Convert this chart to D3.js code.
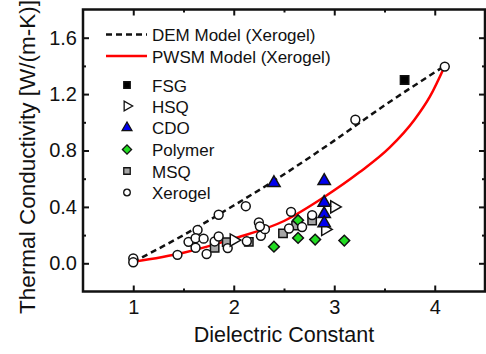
<!DOCTYPE html>
<html>
<head>
<meta charset="utf-8">
<script src="https://cdn.jsdelivr.net/npm/d3@7"></script>
<style>
  body { margin: 0; background: #fff; }
  text { font-family: "Liberation Sans", Arial, sans-serif; fill: #111; }
</style>
</head>
<body>
<svg id="chart" width="486" height="354"></svg>
<script>
// model curves
const demK  = [1.0, 1.5, 2.0, 2.4, 3.0, 3.5, 4.1];
const demTC = [0.01, 0.20, 0.41, 0.585, 0.87, 1.12, 1.40];
const pwsmK  = [1.0, 1.5, 2.0, 2.5, 2.9, 3.25, 3.55, 3.8, 3.95, 4.1];
const pwsmTC = [0.01, 0.075, 0.175, 0.30, 0.47, 0.645, 0.82, 1.02, 1.18, 1.40];

// measured materials
const fsgK = [3.7];
const fsgTC = [1.30];
const hsqK = [2.0, 3.0, 2.91];
const hsqTC = [0.165, 0.40, 0.24];
const cdoK = [2.4, 2.9, 2.9, 2.9, 2.9];
const cdoTC = [0.57, 0.585, 0.43, 0.35, 0.285];
const polyK = [2.4, 2.64, 2.81, 3.1, 2.64];
const polyTC = [0.118, 0.18, 0.168, 0.161, 0.305];
const msqK = [1.81, 1.93, 2.15, 2.49, 2.62, 2.78];
const msqTC = [0.11, 0.15, 0.152, 0.212, 0.267, 0.303];
const xeroK = [1.0, 1.0, 1.44, 1.55, 1.62, 1.64, 1.62, 1.70, 1.73, 1.81, 1.85, 1.85, 1.94,
               2.12, 2.13, 2.25, 2.27, 2.31, 2.26, 2.57, 2.55, 2.68, 2.78, 3.21, 4.10];
const xeroTC = [0.035, 0.007, 0.06, 0.152, 0.11, 0.236, 0.178, 0.175, 0.066, 0.155, 0.344, 0.19, 0.108,
                0.405, 0.156, 0.29, 0.195, 0.242, 0.262, 0.365, 0.247, 0.257, 0.342, 1.018, 1.395];

const xMajor = [1, 2, 3, 4];
const xMinor = [1.5, 2.5, 3.5];
const yMajor = [0, 0.4, 0.8, 1.2, 1.6];
const yMinor = [0.2, 0.6, 1.0, 1.4];

const margin = {left: 83, right: 1, top: 9.5, bottom: 62.5};
const width = 486, height = 354;
const svg = d3.select('#chart');

const x = d3.scaleLinear().domain([0.5, 4.5]).range([margin.left, width - margin.right]);
const y = d3.scaleLinear().domain([-0.2, 1.8]).range([height - margin.bottom, margin.top]);

const x0 = x.range()[0], x1 = x.range()[1];
const y0 = y.range()[0], y1 = y.range()[1];

// axes, ticks point inward on all four sides
function styleAxis(g) {
  g.select('.domain').remove();
  g.selectAll('.tick line').attr('stroke', '#111').attr('stroke-width', 2);
}
svg.append('g').attr('transform', `translate(0,${y0})`)
  .call(d3.axisBottom(x).tickValues(xMajor).tickSize(-6).tickPadding(8).tickFormat(d3.format('d')))
  .call(styleAxis)
  .selectAll('text').style('font-size', '20px');
svg.append('g').attr('transform', `translate(0,${y0})`)
  .call(d3.axisBottom(x).tickValues(xMinor).tickSize(-3).tickFormat(''))
  .call(styleAxis);
svg.append('g').attr('transform', `translate(0,${y1})`)
  .call(d3.axisTop(x).tickValues(xMajor).tickSize(-6).tickFormat(''))
  .call(styleAxis);
svg.append('g').attr('transform', `translate(0,${y1})`)
  .call(d3.axisTop(x).tickValues(xMinor).tickSize(-3).tickFormat(''))
  .call(styleAxis);
svg.append('g').attr('transform', `translate(${x0},0)`)
  .call(d3.axisLeft(y).tickValues(yMajor).tickSize(-6).tickPadding(6).tickFormat(d3.format('.1f')))
  .call(styleAxis)
  .selectAll('text').style('font-size', '20px');
svg.append('g').attr('transform', `translate(${x0},0)`)
  .call(d3.axisLeft(y).tickValues(yMinor).tickSize(-3).tickFormat(''))
  .call(styleAxis);
svg.append('g').attr('transform', `translate(${x1},0)`)
  .call(d3.axisRight(y).tickValues(yMajor).tickSize(-6).tickFormat(''))
  .call(styleAxis);
svg.append('g').attr('transform', `translate(${x1},0)`)
  .call(d3.axisRight(y).tickValues(yMinor).tickSize(-3).tickFormat(''))
  .call(styleAxis);

svg.append('rect')
  .attr('x', x0).attr('y', y1).attr('width', x1 - x0).attr('height', y0 - y1)
  .attr('fill', 'none').attr('stroke', '#111').attr('stroke-width', 2.5);

// axis titles
svg.append('text')
  .attr('x', (x0 + x1) / 2).attr('y', 342)
  .attr('text-anchor', 'middle').style('font-size', '21.5px')
  .text('Dielectric Constant');
svg.append('text')
  .attr('transform', 'translate(35,157) rotate(-90)')
  .attr('text-anchor', 'middle').style('font-size', '22.5px')
  .text('Thermal Conductivity [W/(m-K)]');

// model lines
const line = d3.line().x(d => x(d[0])).y(d => y(d[1])).curve(d3.curveMonotoneX);
svg.append('path').datum(d3.zip(pwsmK, pwsmTC))
  .attr('d', line).attr('fill', 'none').attr('stroke', '#ff0000').attr('stroke-width', 2.5);
svg.append('path').datum(d3.zip(demK, demTC))
  .attr('d', line).attr('fill', 'none').attr('stroke', '#111')
  .attr('stroke-width', 2.5).attr('stroke-dasharray', '6,4');

// markers
const series = [
  {name: 'MSQ', k: msqK, tc: msqTC, shape: 'square', fill: '#a6a6a6', size: 70},
  {name: 'Polymer', k: polyK, tc: polyTC, shape: 'diamond', fill: '#22dd22', size: 58},
  {name: 'Xerogel', k: xeroK, tc: xeroTC, shape: 'circle', fill: '#fff', size: 62},
  {name: 'HSQ', k: hsqK, tc: hsqTC, shape: 'rtri', fill: '#fff', size: 64},
  {name: 'CDO', k: cdoK, tc: cdoTC, shape: 'tri', fill: '#0000ee', size: 66},
  {name: 'FSG', k: fsgK, tc: fsgTC, shape: 'square', fill: '#000', size: 70}
];

function symbolPath(shape, size) {
  if (shape === 'circle') return d3.symbol(d3.symbolCircle, size)();
  if (shape === 'square' || shape === 'diamond') return d3.symbol(d3.symbolSquare, size)();
  return d3.symbol(d3.symbolTriangle, size)();
}
function rot(shape) {
  if (shape === 'rtri') return ' rotate(90)';
  if (shape === 'diamond') return ' rotate(45)';
  return '';
}

series.forEach(s => {
  svg.append('g').selectAll('path')
    .data(d3.zip(s.k, s.tc))
    .enter()
    .append('path')
    .attr('d', symbolPath(s.shape, s.size))
    .attr('transform', d => `translate(${x(d[0])},${y(d[1])})` + rot(s.shape))
    .attr('fill', s.fill)
    .attr('stroke', '#111')
    .attr('stroke-width', 1.5);
});

// legend
const lg = svg.append('g').style('font-size', '17px');
lg.append('line').attr('x1', 106).attr('x2', 147).attr('y1', 34.5).attr('y2', 34.5)
  .attr('stroke', '#111').attr('stroke-width', 2.5).attr('stroke-dasharray', '6,4');
lg.append('text').attr('x', 152).attr('y', 41).text('DEM Model (Xerogel)');
lg.append('line').attr('x1', 106).attr('x2', 147).attr('y1', 56).attr('y2', 56)
  .attr('stroke', '#ff0000').attr('stroke-width', 2.5);
lg.append('text').attr('x', 152).attr('y', 62.5).text('PWSM Model (Xerogel)');

const legendOrder = ['FSG', 'HSQ', 'CDO', 'Polymer', 'MSQ', 'Xerogel'];
const legendY = [85, 106, 127.7, 149.5, 171, 192.5];
legendOrder.forEach((name, i) => {
  const s = series.find(d => d.name === name);
  lg.append('path')
    .attr('d', symbolPath(s.shape, s.shape === 'circle' ? 34 : 42))
    .attr('transform', `translate(127,${legendY[i]})` + rot(s.shape))
    .attr('fill', s.fill).attr('stroke', '#111').attr('stroke-width', 1.3);
  lg.append('text').attr('x', 152).attr('y', legendY[i] + 6.5).text(name);
});
</script>
</body>
</html>
